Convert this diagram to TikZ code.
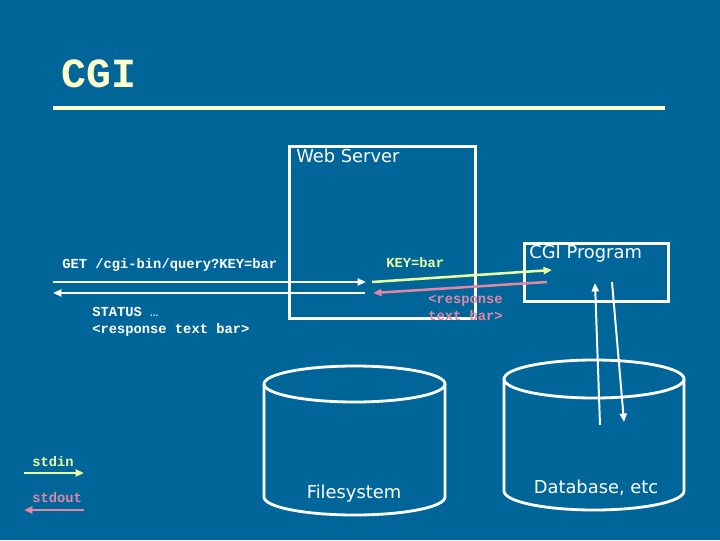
\documentclass[tikz,border=0pt]{standalone}
\usepackage{fontspec}
\newfontfamily\labelfont{DejaVu Sans}
\newfontfamily\codefont{Liberation Mono}
\usetikzlibrary{positioning,arrows.meta}
\definecolor{slide}{RGB}{0,102,153}
\definecolor{titlecream}{RGB}{255,255,204}
\definecolor{inlime}{RGB}{235,255,160}
\definecolor{outpink}{RGB}{225,135,165}

\begin{document}
\begin{tikzpicture}[x=0.025cm, y=0.025cm,
    box/.style={draw=white, line width=2pt, inner sep=0pt},
    lbl/.style={text=white, font=\labelfont\fontsize{12.7}{14}\selectfont, inner sep=0pt},
    code/.style={font=\codefont\bfseries\fontsize{9.8}{12}\selectfont, inner sep=0pt},
    flow/.style={line width=1.8pt, -{Triangle[length=6pt,width=5pt]}},
    tank/.style={draw=white, line width=2pt}]
    \fill[slide] (0,0) rectangle (720,540);

    \node[anchor=base west, text=titlecream, inner sep=0pt, font=\codefont\bfseries\fontsize{29.5}{32}\selectfont] (title) at (61,452) {CGI};
    \draw[titlecream, line width=3.5pt] (53,432) -- (665,432);

    \node[box, minimum width=4.65cm, minimum height=4.3cm, anchor=north west] (web) at (288,395) {};
    \node[lbl, anchor=base west] (webname) at (296,377) {Web Server};
    \node[box, minimum width=3.6cm, minimum height=1.45cm, anchor=north west] (cgi) at (523,298) {};
    \node[lbl, anchor=base west] (cginame) at (529,282) {CGI Program};

    \node[code, text=white, anchor=base west] (request) at (62,272) {GET /cgi-bin/query?KEY=bar};
    \node[code, text=inlime, anchor=base west] (key) at (386,273) {KEY=bar};
    \node[code, text=outpink, anchor=base west] (resp1) at (428,237) {<response};
    \node[code, text=outpink, anchor=base west] (resp2) at (428,220) {text bar>};
    \node[code, text=white, anchor=base west] (status1) at (92,224) {STATUS \mdseries…};
    \node[code, text=white, anchor=base west] (status2) at (92,207) {<response text bar>};

    \coordinate (client) at (53,258);
    \coordinate (clientret) at (53,247);
    \coordinate (srvin) at (366,258);
    \coordinate (srvback) at (365,247);
    \coordinate (srvout) at (372,258);
    \coordinate (srvret) at (373,247);
    \coordinate (cgiin) at (552,270);
    \coordinate (cgiout) at (547,258);
    \draw[flow, white] (client) -- (srvin);
    \draw[flow, inlime] (srvout) -- (cgiin);
    \draw[flow, outpink] (cgiout) -- (srvret);
    \draw[flow, white] (srvback) -- (clientret);

    \draw[tank] (354.5,156) ellipse (90.5 and 18);
    \draw[tank] (264,156) -- (264,43) arc (180:360:90.5 and 18) -- (445,156);
    \node[lbl, anchor=base] (fsname) at (354,42) {Filesystem};

    \draw[tank] (594,161) ellipse (90 and 19);
    \draw[tank] (504,161) -- (504,49) arc (180:360:90 and 19) -- (684,161);
    \node[lbl, anchor=base] (dbname) at (596,47) {Database, etc};

    \coordinate (dbup) at (600,115);
    \coordinate (cgiup) at (595,257);
    \coordinate (cgidown) at (612,258);
    \coordinate (dbdown) at (624,118);
    \draw[flow, white, line width=1.4pt] (dbup) -- (cgiup);
    \draw[flow, white, line width=1.4pt] (cgidown) -- (dbdown);

    \node[code, text=inlime, anchor=base west] (stdin) at (32,74) {stdin};
    \coordinate (inA) at (24,67);
    \coordinate (inB) at (84,67);
    \draw[flow, inlime] (inA) -- (inB);
    \node[code, text=outpink, anchor=base west] (stdout) at (32,38) {stdout};
    \coordinate (outA) at (84,30);
    \coordinate (outB) at (24,30);
    \draw[flow, outpink] (outA) -- (outB);
\end{tikzpicture}
\end{document}
